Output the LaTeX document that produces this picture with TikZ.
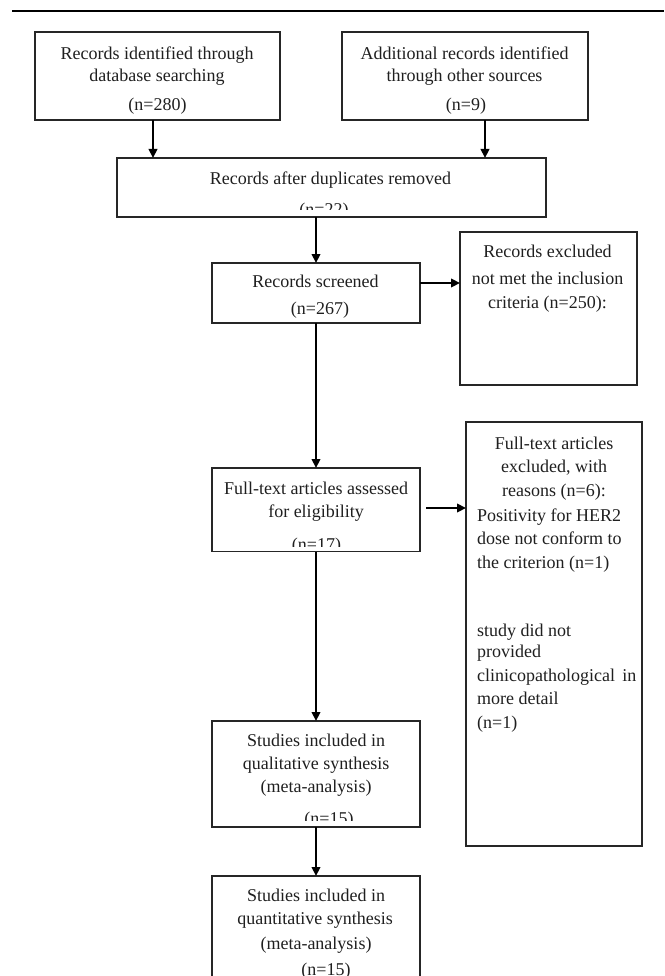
\documentclass[tikz,border=0pt]{standalone}
\usepackage{fontspec}
\setmainfont{Liberation Serif}
\usetikzlibrary{arrows.meta}
\newcommand\txtline[4]{\node[txt] (#1) at (#2,#3) {#4};}
\newcommand\lefttxt[4]{\node[txt, anchor=base west] (#1) at (#2,#3) {#4};}
\begin{document}
\begin{tikzpicture}[x=1pt,y=-1pt,
  box/.style={draw=black!85, line width=1.3pt, inner sep=0pt, outer sep=0pt},
  txt/.style={font=\fontsize{18}{23}\selectfont, text=black!88, inner sep=0pt, anchor=base},
  arr/.style={draw=black, line width=2.2pt, -{Triangle[length=9pt,width=8.5pt]}},
]
\useasboundingbox (0,0) rectangle (664,976);
% top rule
\draw[line width=2.6pt] (12,11) -- (664,11);

% boxes
\node[box, minimum width=245pt, minimum height=88pt]  (b1) at (157.5,76) {};
\node[box, minimum width=246pt, minimum height=88pt]  (b2) at (465,76) {};
\node[box, minimum width=429pt, minimum height=59pt]  (b3) at (331.5,187.5) {};
\node[box, minimum width=208pt, minimum height=60pt]  (b4) at (316,293) {};
\node[box, minimum width=177pt, minimum height=153pt] (e1) at (548.5,308.5) {};
\node[box, minimum width=208pt, minimum height=83.5pt] (b5) at (316,509.75) {};
\node[box, minimum width=176pt, minimum height=424pt] (e2) at (554,634) {};
\node[box, minimum width=208pt, minimum height=106pt] (b6) at (316,774) {};
\node[box, minimum width=208pt, minimum height=124pt] (b7) at (316,938) {};

% texts
\txtline{t1a}{157}{59.5}{Records identified through}
\txtline{t1b}{157}{81.5}{database searching}
\txtline{t1c}{157.5}{110.5}{(n=280)}

\txtline{t2a}{464.5}{59.5}{Additional records identified}
\txtline{t2b}{464.5}{81.5}{through other sources}
\txtline{t2c}{466}{110.5}{(n=9)}

\txtline{t3a}{330.5}{184.5}{Records after duplicates removed}
\begin{scope}
\clip (118,195) rectangle (545,210);
\txtline{t3b}{324}{215}{(n=22)}
\end{scope}

\txtline{t4a}{315.5}{287.8}{Records screened}
\txtline{t4b}{320}{314.5}{(n=267)}

\txtline{e1a}{547.5}{257.5}{Records excluded}
\txtline{e1b}{547.5}{284.5}{not met the inclusion}
\txtline{e1c}{547.5}{308.5}{criteria (n=250):}

\txtline{t5a}{316}{494.5}{Full-text articles assessed}
\txtline{t5b}{316}{517.8}{for eligibility}
\begin{scope}
\clip (213,525) rectangle (419,546);
\txtline{t5c}{316.5}{550}{(n=17)}
\end{scope}

\txtline{e2a}{554}{449.5}{Full-text articles}
\txtline{e2b}{554}{472.5}{excluded, with}
\txtline{e2c}{554}{496.5}{reasons (n=6):}
\lefttxt{e2d}{477}{521.5}{Positivity for HER2}
\lefttxt{e2e}{477}{544.5}{dose not conform to}
\lefttxt{e2f}{477}{568.5}{the criterion (n=1)}
\lefttxt{e2g}{477}{636.5}{study did not}
\lefttxt{e2h}{477}{657.5}{provided}
\lefttxt{e2i}{477}{681.5}{clinicopathological\hspace{0.4em}in}
\lefttxt{e2j}{477}{704.5}{more detail}
\lefttxt{e2k}{477}{728.5}{(n=1)}

\txtline{t6a}{316}{746.2}{Studies included in}
\txtline{t6b}{316}{769.5}{qualitative synthesis}
\txtline{t6c}{316}{792.8}{(meta-analysis)}
\begin{scope}
\clip (213,800) rectangle (419,820);
\txtline{t6d}{329}{824}{(n=15)}
\end{scope}

\txtline{t7a}{316}{901.2}{Studies included in}
\txtline{t7b}{315}{924.5}{quantitative synthesis}
\txtline{t7c}{316}{949.5}{(meta-analysis)}
\txtline{t7d}{326}{975}{(n=15)}

% connectors
\coordinate (x1) at (153,0);
\coordinate (x2) at (485,0);
\coordinate (xm) at (316,0);
\coordinate (y4) at (0,283);
\coordinate (s6) at (426,508);
\draw[arr] (b1.south -| x1) -- (b3.north -| x1);
\draw[arr] (b2.south -| x2) -- (b3.north -| x2);
\draw[arr] (b3.south -| xm) -- (b4.north -| xm);
\draw[arr] (b4.east |- y4) -- (e1.west |- y4);
\draw[arr] (b4.south -| xm) -- (b5.north -| xm);
\draw[arr] (s6) -- (e2.west |- s6);
\draw[arr] (b5.south -| xm) -- (b6.north -| xm);
\draw[arr] (b6.south -| xm) -- (b7.north -| xm);
\end{tikzpicture}
\end{document}
